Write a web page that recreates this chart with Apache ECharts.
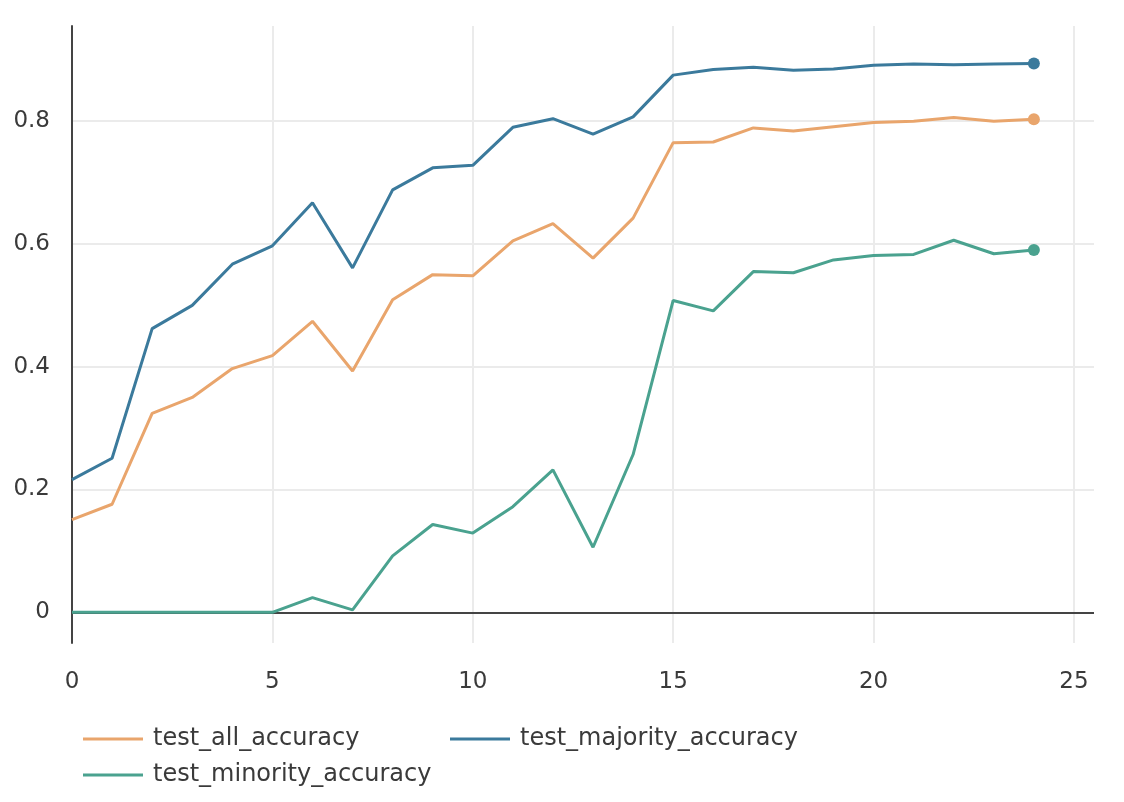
<!DOCTYPE html>
<html>
<head>
<meta charset="utf-8">
<script src="https://cdn.jsdelivr.net/npm/echarts@6/dist/echarts.min.js"></script>
<style>
html,body{margin:0;padding:0;background:#fff;}
#chart{width:1124px;height:802px;}
</style>
</head>
<body>
<div id="chart"></div>
<script>
const epochs = [0,1,2,3,4,5,6,7,8,9,10,11,12,13,14,15,16,17,18,19,20,21,22,23,24];
const testAllAccuracy = [0.151,0.176,0.324,0.350,0.397,0.418,0.474,0.393,0.509,0.550,0.548,0.605,0.633,0.577,0.642,0.765,0.766,0.789,0.784,0.791,0.798,0.800,0.806,0.800,0.803];
const testMajorityAccuracy = [0.216,0.251,0.462,0.500,0.567,0.597,0.667,0.561,0.688,0.724,0.728,0.790,0.804,0.779,0.807,0.875,0.884,0.888,0.883,0.885,0.891,0.893,0.892,0.893,0.894];
const testMinorityAccuracy = [0,0,0,0,0,0,0.024,0.004,0.092,0.143,0.129,0.172,0.232,0.106,0.257,0.508,0.491,0.555,0.553,0.574,0.581,0.583,0.606,0.584,0.590];
const seriesNames = ['test_all_accuracy','test_majority_accuracy','test_minority_accuracy'];
const seriesColors = ['#e9a56c','#3b7a9c','#4aa28f'];
const xTicks = [0,5,10,15,20,25];
const yTicks = [0,0.2,0.4,0.6,0.8];

const FONT = '"DejaVu Sans", Verdana, sans-serif';
const chart = echarts.init(document.getElementById('chart'));

function mkSeries(name, values, color, idx) {
  const s = {
    name: name,
    type: 'line',
    data: values.map((v, i) => [epochs[i], v]),
    showSymbol: true,
    showAllSymbol: true,
    symbol: 'circle',
    symbolSize: (val, p) => p.dataIndex === values.length - 1 ? 12 : 0,
    lineStyle: { color: color, width: 3 },
    itemStyle: { color: color },
    emphasis: { disabled: true },
    animation: false,
    z: 3 + idx
  };
  if (idx === 0) {
    s.markLine = {
      silent: true,
      symbol: ['none', 'none'],
      label: { show: false },
      lineStyle: { color: '#444', width: 2, type: 'solid' },
      data: [{ yAxis: 0 }],
      animation: false
    };
  }
  return s;
}

const option = {
  backgroundColor: '#fff',
  animation: false,
  textStyle: { fontFamily: FONT },
  grid: { left: 72, right: 30, top: 26, bottom: 159, containLabel: false },
  xAxis: {
    type: 'value',
    min: 0,
    max: 25.5,
    interval: 5,
    axisLine: { show: false },
    axisTick: { show: false },
    axisLabel: {
      color: '#3a3a3a', fontSize: 23, fontFamily: FONT, margin: 28,
      showMaxLabel: false,
      formatter: v => xTicks.indexOf(v) >= 0 ? String(v) : ''
    },
    splitLine: { show: true, showMaxLine: false, lineStyle: { color: '#ebebeb', width: 2 } }
  },
  yAxis: {
    type: 'value',
    min: -0.05,
    max: 0.955,
    splitNumber: 5,
    axisLine: { show: true, onZero: false, lineStyle: { color: '#444', width: 2 } },
    axisTick: { show: false },
    axisLabel: {
      color: '#3a3a3a', fontSize: 23, fontFamily: FONT, margin: 22,
      showMinLabel: false, showMaxLabel: false,
      formatter: v => {
        const r = Math.round(v * 10) / 10;
        return (Math.abs(r - v) < 1e-6 && yTicks.indexOf(r) >= 0) ? String(r) : '';
      }
    },
    splitLine: { show: true, showMinLine: false, showMaxLine: false, lineStyle: { color: '#ebebeb', width: 2 } }
  },
  legend: {
    left: 83,
    top: 727,
    width: 740,
    padding: 0,
    orient: 'horizontal',
    itemGap: 12,
    itemWidth: 60,
    itemHeight: 3,
    icon: 'rect',
    textStyle: { color: '#3a3a3a', fontSize: 24, fontFamily: FONT, width: 285, lineHeight: 24, padding: [0, 0, 0, 5] },
    data: seriesNames.map((n, i) => ({ name: n, itemStyle: { color: seriesColors[i] } }))
  },
  series: [
    mkSeries(seriesNames[0], testAllAccuracy, seriesColors[0], 0),
    mkSeries(seriesNames[1], testMajorityAccuracy, seriesColors[1], 1),
    mkSeries(seriesNames[2], testMinorityAccuracy, seriesColors[2], 2)
  ]
};
chart.setOption(option);
</script>
</body>
</html>
